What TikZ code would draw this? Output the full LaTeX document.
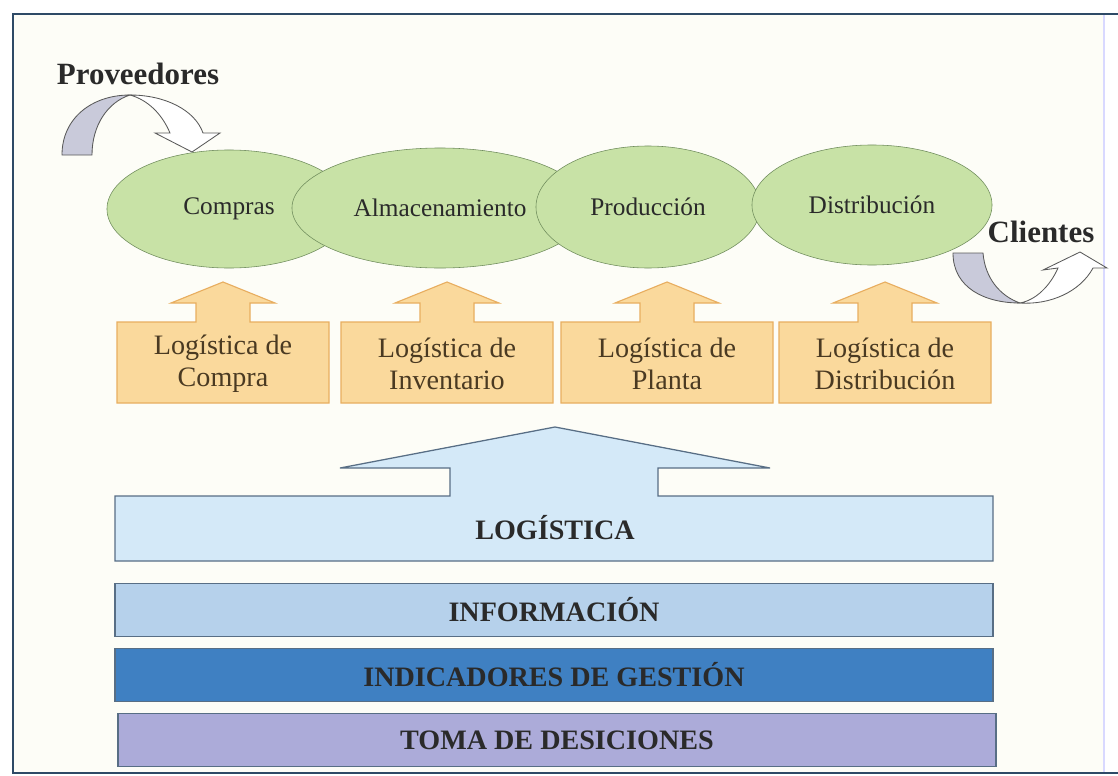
\documentclass[tikz,border=0pt]{standalone}
\usepackage{fontspec}
\setmainfont{Liberation Serif}
\usetikzlibrary{shapes.geometric}
\definecolor{fondo}{HTML}{FDFDF7}
\definecolor{marco}{HTML}{2E4A66}
\definecolor{verde}{HTML}{C8E2A6}
\definecolor{bordeverde}{HTML}{6F8C5C}
\definecolor{naranja}{HTML}{FAD99C}
\definecolor{bordenaranja}{HTML}{E8AE60}
\definecolor{celeste}{HTML}{D4E9F8}
\definecolor{azulclaro}{HTML}{B6D1EB}
\definecolor{azulmedio}{HTML}{3F80C2}
\definecolor{lavanda}{HTML}{ACABD9}
\definecolor{grisflecha}{HTML}{C9CADA}
\definecolor{texto}{HTML}{2A2A2A}
\definecolor{textonar}{HTML}{4A3A22}
\begin{document}
\begin{tikzpicture}[x=0.025cm,y=-0.025cm,
  proc/.style={ellipse,draw=bordeverde,fill=verde,inner sep=0pt,font=\fontsize{18}{21}\selectfont,text=texto},
  logbox/.style={draw=bordenaranja,fill=naranja,line width=0.8pt},
  logtxt/.style={align=center,font=\fontsize{20}{23}\selectfont,text=textonar},
  barra/.style={rectangle,draw=marco!80,line width=0.9pt,minimum width=21.95cm,minimum height=1.325cm,font=\bfseries\fontsize{20}{24}\selectfont,text=texto},
  flecha/.style={draw=black!65,line width=0.6pt},
  titulo/.style={font=\bfseries\fontsize{22}{26}\selectfont,text=texto}]
\useasboundingbox (0,0) rectangle (1118,776);
% marco
\fill[fondo] (13,14) rectangle (1104,773);
\draw[blue!15,line width=1pt] (1104,14) -- (1104,773);
\draw[marco,line width=1.8pt] (1118,14) -- (13,14) -- (13,773) -- (1118,773);
% procesos
\node[proc,minimum width=6.1cm,minimum height=2.95cm] (compras) at (229,209) {Compras};
\node[proc,minimum width=7.4cm,minimum height=3cm] (almac) at (440,208) {Almacenamiento};
\node[proc,minimum width=5.6cm,minimum height=3.05cm] (prod) at (648,207) {Producción};
\node[proc,minimum width=6cm,minimum height=3cm] (distr) at (872,205) {Distribución};
% proveedores y clientes
\node[titulo] (prov) at (138,74) {Proveedores};
\node[titulo] (clien) at (1041,232) {Clientes};
\filldraw[flecha,fill=grisflecha] (62,155) .. controls (62,118) and (92,95) .. (130,95)
  .. controls (108,102) and (92,125) .. (92,155) -- cycle;
\filldraw[flecha,fill=white] (130,95) .. controls (165,95) and (195,110) .. (203,133) -- (220,133)
  -- (192,152) -- (155,133) -- (170,133) .. controls (162,114) and (148,100) .. (130,95) -- cycle;
\filldraw[flecha,fill=grisflecha] (953,253) -- (983,253) .. controls (985,278) and (1000,296) .. (1020,303)
  .. controls (985,303) and (953,288) .. (953,253) -- cycle;
\filldraw[flecha,fill=white] (1020,303) .. controls (1036,300) and (1050,286) .. (1058,268) -- (1043,270)
  -- (1080,252) -- (1107,268) -- (1093,268) .. controls (1080,292) and (1050,305) .. (1020,303) -- cycle;
% logistica por area
\foreach \cx/\nm/\txt in {223/lcompra/{Logística de\\Compra},447/linv/{Logística de\\Inventario},
    667/lplanta/{Logística de\\Planta},885/ldist/{Logística de\\Distribución}}{
  \draw[logbox] ({\cx-106},403) -- ({\cx-106},322) -- ({\cx-27},322) -- ({\cx-27},303) -- ({\cx-52},303)
    -- (\cx,282) -- ({\cx+52},303) -- ({\cx+27},303) -- ({\cx+27},322) -- ({\cx+106},322) -- ({\cx+106},403) -- cycle;
  \node[logtxt] (\nm) at (\cx,364) {\txt};
}
% logistica general
\draw[fill=celeste,draw=marco!80,line width=0.9pt] (115,561) -- (115,496) -- (450,496) -- (450,468) -- (340,468)
  -- (555,427) -- (770,468) -- (658,468) -- (658,496) -- (993,496) -- (993,561) -- cycle;
\node[font=\bfseries\fontsize{20}{24}\selectfont,text=texto] (logis) at (555,528) {LOGÍSTICA};
\node[barra,fill=azulclaro] (info) at (554,610) {INFORMACIÓN};
\node[barra,fill=azulmedio] (indic) at (554,675) {INDICADORES DE GESTIÓN};
\node[barra,fill=lavanda] (toma) at (557,740) {TOMA DE DESICIONES};
\end{tikzpicture}
\end{document}
